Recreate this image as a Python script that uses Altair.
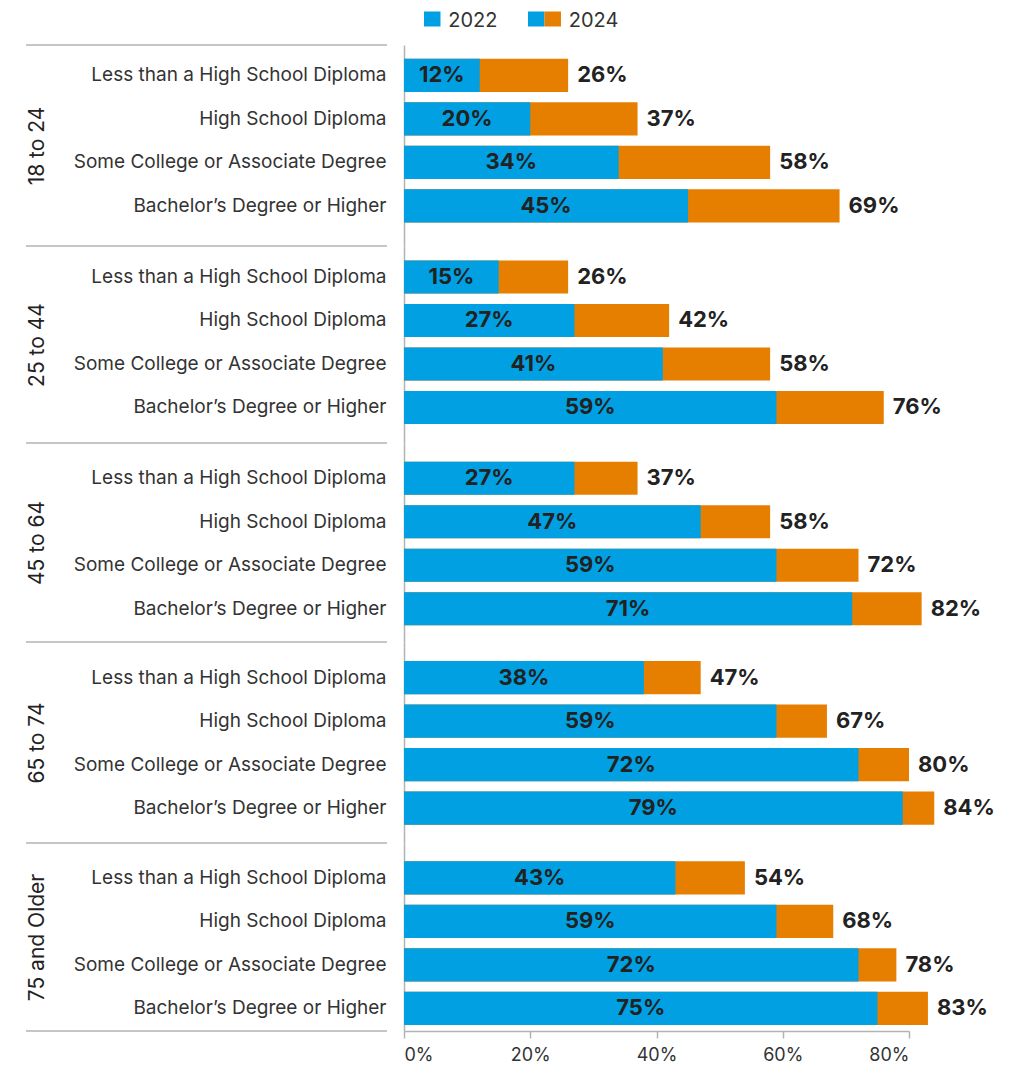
import altair as alt
import pandas as pd

groups = ["18 to 24", "25 to 44", "45 to 64", "65 to 74", "75 and Older"]
categories = [
    "Less than a High School Diploma",
    "High School Diploma",
    "Some College or Associate Degree",
    "Bachelor\u2019s Degree or Higher",
]
values_2022 = [
    [12, 20, 34, 45],
    [15, 27, 41, 59],
    [27, 47, 59, 71],
    [38, 59, 72, 79],
    [43, 59, 72, 75],
]
values_2024 = [
    [26, 37, 58, 69],
    [26, 42, 58, 76],
    [37, 58, 72, 82],
    [47, 67, 80, 84],
    [54, 68, 78, 83],
]
years = ["2022", "2024"]
x_ticks = [0, 20, 40, 60, 80]

BLUE = "#00A0E3"
ORANGE = "#E67E00"
GREY = "#b3b3b3"
TEXT = "#333333"
DARK = "#222222"
FONT = "Inter"

PLOT_W = 505
group_heights = [201, 197, 199, 201, 188]
group_align = [0.37, 0.43, 0.53, 0.51, 0.75]
STEP = 43.5
PAD_IN = 0.24


def group_chart(i, last):
    df = pd.DataFrame({
        "Category": categories,
        "v2022": values_2022[i],
        "v2024": values_2024[i],
    })
    H = group_heights[i]
    po = (H / STEP - (4 - PAD_IN)) / 2
    yenc = alt.Y(
        "Category:N",
        sort=categories,
        scale=alt.Scale(paddingInner=PAD_IN, paddingOuter=po, align=group_align[i]),
        axis=alt.Axis(
            title=groups[i],
            titleFont=FONT, titleFontSize=21, titleFontWeight="normal",
            titleColor=DARK, titleX=-361, titleAngle=270,
            titleBaseline="alphabetic", titleAlign="center",
            labelFont=FONT, labelFontSize=19, labelColor=TEXT,
            labelPadding=18, labelLimit=0, ticks=False,
            domainColor=GREY, domainWidth=1.5,
        ),
    )
    xscale = alt.Scale(domain=[0, 80], nice=False)
    if last:
        xaxis = alt.Axis(
            values=x_ticks, labelExpr="datum.value + '%'", title=None, grid=False,
            domainColor=GREY, domainWidth=1.5, tickColor=GREY, tickWidth=1.5,
            tickSize=7, labelFont=FONT, labelFontSize=18, labelColor=TEXT,
            labelPadding=8,
        )
    else:
        xaxis = None

    base = alt.Chart(df)
    orange = base.mark_bar(color=ORANGE).encode(
        x=alt.X("v2024:Q", scale=xscale, axis=xaxis, title=None), y=yenc)
    blue = base.mark_bar(color=BLUE).encode(
        x=alt.X("v2022:Q", scale=xscale, axis=xaxis, title=None), y=yenc)
    lab22 = base.transform_calculate(
        mid="datum.v2022 / 2", lab="datum.v2022 + '%'"
    ).mark_text(font=FONT, fontSize=22, fontWeight="bold", color=DARK,
                align="center", baseline="middle").encode(
        x=alt.X("mid:Q", scale=xscale, axis=xaxis, title=None), y=yenc,
        text="lab:N")
    lab24 = base.transform_calculate(
        lab="datum.v2024 + '%'"
    ).mark_text(font=FONT, fontSize=22, fontWeight="bold", color=DARK,
                align="left", baseline="middle", dx=9).encode(
        x=alt.X("v2024:Q", scale=xscale, axis=xaxis, title=None), y=yenc,
        text="lab:N")

    sep_df = pd.DataFrame({"group": [groups[i]]})
    top_rule = alt.Chart(sep_df).mark_rule(color=GREY, strokeWidth=1.5).encode(
        x=alt.value(-378), x2=alt.value(-17), y=alt.value(0))
    layers = [top_rule, orange, blue, lab22, lab24]
    if last:
        bottom_rule = alt.Chart(sep_df).mark_rule(color=GREY, strokeWidth=1.5).encode(
            x=alt.value(-378), x2=alt.value(-17), y=alt.value(H))
        layers.append(bottom_rule)
    return alt.layer(*layers).properties(width=PLOT_W, height=H)


# legend built from the year list
leg_rows = pd.DataFrame({"entry": ["2022", "2024", "2024"],
                         "part": ["2022", "2022", "2024"]})
leg_text = pd.DataFrame({"entry": years, "part": years})
leg_x = alt.X("entry:N", axis=None,
              scale=alt.Scale(domain=years, paddingInner=0.683, paddingOuter=0.5435, align=0.177))
leg_off = alt.XOffset("part:N", scale=alt.Scale(domain=years, paddingInner=0, paddingOuter=0))
leg_sym = alt.Chart(leg_rows).mark_bar().encode(
    x=leg_x, xOffset=leg_off,
    y=alt.value(3.5), y2=alt.value(18.5),
    color=alt.Color("part:N", scale=alt.Scale(domain=years, range=[BLUE, ORANGE]), legend=None),
)
leg_lab = alt.Chart(leg_text).mark_text(
    font=FONT, fontSize=20, color=TEXT, align="left", baseline="middle", dx=16
).encode(x=leg_x, xOffset=leg_off, y=alt.value(12.5), text="entry:N")
legend = alt.layer(leg_sym, leg_lab).properties(width=250, height=37)

panels = [group_chart(i, i == len(groups) - 1) for i in range(len(groups))]

chart = alt.vconcat(legend, *panels, spacing=0, bounds="flush").properties(
    padding={"left": 17, "top": 0, "right": 5, "bottom": 5}
).configure_view(stroke=None)

chart.save("out.html", embed_options={"renderer": "svg", "actions": False})
